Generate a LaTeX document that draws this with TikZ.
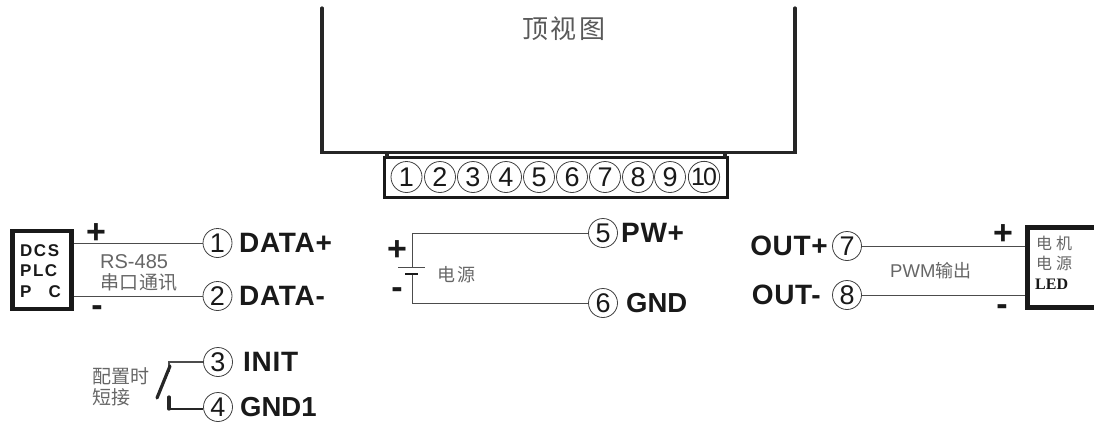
\documentclass[tikz,border=0pt]{standalone}
\usepackage{fontspec}
\setmainfont{Liberation Sans}
\newfontfamily\cjk{Noto Sans CJK SC}
\newfontfamily\lbl[LetterSpace=2.5]{Liberation Sans Bold}
\newfontfamily\tight{Liberation Sans Bold}
\newfontfamily\plain{Liberation Sans Bold}
\newfontfamily\devf[LetterSpace=9]{Liberation Sans Bold}
\newfontfamily\serifb{Liberation Serif Bold}
\tikzset{
  x=1pt,y=-1pt,
  wire/.style={draw=black!70,line width=1pt},
  heavy/.style={draw=black!85,line width=3.2pt,line cap=round,line join=miter},
  pin/.style={circle,draw=black!75,line width=0.8pt,fill=white,minimum size=29pt,inner sep=0pt,font=\fontsize{27}{27}\selectfont,text=black!90},
  toppin/.style={pin,minimum size=31pt},
  sig/.style={inner sep=0pt,anchor=west,font=\lbl\fontsize{28}{28}\selectfont,text=black!90},
  sigt/.style={sig,font=\tight\fontsize{27.5}{27.5}\selectfont},
  sign/.style={inner sep=0pt,font=\plain\fontsize{34}{34}\selectfont,text=black!90},
  note/.style={inner sep=0pt,anchor=west,font=\cjk\fontsize{14}{16}\selectfont,text=black!60},
  devbox/.style={draw=black!90,line width=4.5pt,fill=white,inner sep=0pt},
  devtext/.style={inner sep=0pt,anchor=west,font=\devf\fontsize{17}{17}\selectfont,text=black!90},
}
\begin{document}
\begin{tikzpicture}
\useasboundingbox (0,0) rectangle (1094,424);
% case
\coordinate (caseTL) at (322,8);
\coordinate (caseBL) at (322,152.5);
\coordinate (caseBR) at (795,152.5);
\coordinate (caseTR) at (795,8);
\draw[heavy] (caseTL) -- (caseBL) -- (caseBR) -- (caseTR);
\node[inner sep=0pt,font=\cjk\fontsize{26}{26}\selectfont,text=black!65] (title) at (564,29) {顶\hspace{3pt}视\hspace{3pt}图};
% terminal block
\node[draw=black!90,line width=3.5pt,minimum width=343pt,minimum height=40pt,inner sep=0pt] (block) at (556,177.5) {};
\coordinate (blockL) at (387,153);
\coordinate (blockR) at (725,153);
\draw[heavy] (blockL) -- (block.north -| blockL);
\draw[heavy] (blockR) -- (block.north -| blockR);
\node[toppin] (t1) at (406.5,177) {1};
\node[toppin] (t2) at (440,177) {2};
\node[toppin] (t3) at (473,177) {3};
\node[toppin] (t4) at (506,177) {4};
\node[toppin] (t5) at (539,177) {5};
\node[toppin] (t6) at (572,177) {6};
\node[toppin] (t7) at (605,177) {7};
\node[toppin] (t8) at (638,177) {8};
\node[toppin] (t9) at (670,177) {9};
\node[toppin] (t10) at (704,177) {\fontsize{25}{25}\selectfont\addfontfeature{LetterSpace=-8}10};
% left device
\node[devbox,minimum width=59pt,minimum height=78pt] (dcs) at (42,270) {};
\node[devtext] (dcsa) at (20,251) {DCS};
\node[devtext] (dcsb) at (20,271) {PLC};
\node[devtext] (dcsc) at (20,292) {P\hspace{17pt}C};
\node[pin] (p1) at (217.5,243) {1};
\node[pin] (p2) at (217.5,296) {2};
\coordinate (dcsp) at (dcs.east |- p1);
\coordinate (dcsm) at (dcs.east |- p2);
\draw[wire] (dcsp) -- (p1);
\draw[wire] (dcsm) -- (p2);
\node[sig] (data1) at (239,243) {DATA+};
\node[sig] (data2) at (239,296) {DATA-};
\node[sign] (plusa) at (96,234) {+};
\node[sign] (minusa) at (97,311) {-};
\node[note,font=\fontsize{20}{20}\selectfont] (rs) at (100,262) {RS-485};
\node[note,font=\cjk\fontsize{19}{19}\selectfont] (rsb) at (100,282) {串\hspace{.5pt}口\hspace{.5pt}通\hspace{.5pt}讯};
% switch
\node[pin] (p3) at (218,362) {3};
\node[pin] (p4) at (218,407) {4};
\coordinate (sw1) at (169,372);
\coordinate (sw2) at (169,397);
\coordinate (swA) at (170,366);
\coordinate (swB) at (157,398);
\draw[wire,line width=1.2pt] (p3) -- (p3 -| sw1) -- (sw1);
\draw[wire,line width=1.2pt,draw=black!85] (p4.west |- 0,409) -- (sw2 |- 0,409);
\draw[heavy] (sw2 |- 0,409) -- (sw2);
\draw[heavy] (swA) -- (swB);
\node[sig] (init) at (243,362) {INIT};
\node[sigt] (gnd1) at (240,407) {GND1};
\node[note,font=\cjk\fontsize{19}{19}\selectfont] (cfga) at (92,376) {配置时};
\node[note,font=\cjk\fontsize{19}{19}\selectfont] (cfgb) at (92,397) {短接};
% power
\node[pin] (p5) at (603,233) {5};
\node[pin] (p6) at (603,303) {6};
\coordinate (batL) at (398,267);
\coordinate (batR) at (425,267);
\coordinate (bat2L) at (405,274);
\coordinate (bat2R) at (418,274);
\coordinate (batTop) at (412,267);
\coordinate (batBot) at (412,274);
\draw[wire] (p5) -- (p5 -| batTop) -- (batTop);
\draw[wire] (p6) -- (p6 -| batBot) -- (batBot);
\draw[draw=black!70,line width=1pt] (batL) -- (batR);
\draw[draw=black!90,line width=2.5pt] (bat2L) -- (bat2R);
\node[sign] (plusb) at (397,251) {+};
\node[sign] (minusb) at (397,293) {-};
\node[note,font=\cjk\fontsize{18}{18}\selectfont] (psu) at (437,275) {电\hspace{2pt}源};
\node[sig] (pw) at (621,233) {PW+};
\node[sigt] (gnd) at (626,303) {GND};
% right device
\node[pin] (p7) at (847,246) {7};
\node[pin] (p8) at (847,295) {8};
\node[devbox,minimum width=72pt,minimum height=80pt,anchor=north west] (led) at (1025,225) {};
\coordinate (ledp) at (led.west |- p7);
\coordinate (ledm) at (led.west |- p8);
\draw[wire] (p7) -- (ledp);
\draw[wire] (p8) -- (ledm);
\node[sig,anchor=east] (outp) at (828,246) {OUT+};
\node[sig,anchor=east] (outm) at (821,295) {OUT-};
\node[sign] (plusc) at (1003,235) {+};
\node[sign] (minusc) at (1002,310) {-};
\node[note,font=\fontsize{18.5}{18.5}\selectfont] (pwm) at (890,271) {PWM{\cjk\fontsize{18}{18}\selectfont 输出}};
\node[note,font=\cjk\fontsize{16}{16}\selectfont] (leda) at (1036,243) {电\hspace{4pt}机};
\node[note,font=\cjk\fontsize{16}{16}\selectfont] (ledb) at (1036,263) {电\hspace{4pt}源};
\node[inner sep=0pt,anchor=west,font=\serifb\fontsize{16}{16}\selectfont,text=black!90] (ledc) at (1035,284) {LED};
\end{tikzpicture}
\end{document}
